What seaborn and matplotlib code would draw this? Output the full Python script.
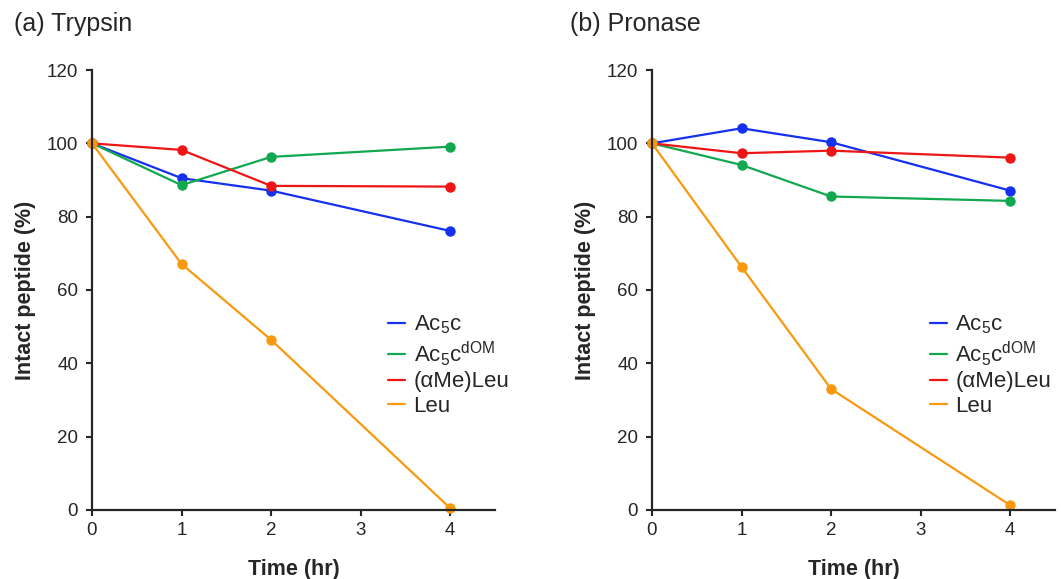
import pandas as pd
import matplotlib
matplotlib.use("Agg")
import matplotlib.pyplot as plt
from matplotlib.lines import Line2D
import seaborn as sns

# values
times = [0, 1, 2, 4]
compounds = ["Ac5c", "Ac5c-dOM", "aMeLeu", "Leu"]
labels = ["Ac$_5$c", "Ac$_5$c$^{\\mathrm{dOM}}$", "(\u03b1Me)Leu", "Leu"]

trypsin_ac5c = [100, 90.5, 87.1, 76.1]
trypsin_dom = [100, 88.6, 96.3, 99.1]
trypsin_ame = [100, 98.2, 88.4, 88.2]
trypsin_leu = [100, 67.1, 46.4, 0.5]

pronase_ac5c = [100, 104.1, 100.3, 87.1]
pronase_dom = [100, 94.1, 85.5, 84.3]
pronase_ame = [100, 97.3, 98.0, 96.1]
pronase_leu = [100, 66.3, 33.0, 1.3]

colors = {"Ac5c": "#1530f0", "Ac5c-dOM": "#12a84f", "aMeLeu": "#ee1515", "Leu": "#f8990f"}


def long_form(series):
    rows = []
    for name, vals in zip(compounds, series):
        for t, v in zip(times, vals):
            rows.append({"time": t, "pct": v, "compound": name})
    return pd.DataFrame(rows)


trypsin = long_form([trypsin_ac5c, trypsin_dom, trypsin_ame, trypsin_leu])
pronase = long_form([pronase_ac5c, pronase_dom, pronase_ame, pronase_leu])

sns.set_style("ticks")
plt.rcParams["font.family"] = ["Liberation Sans", "DejaVu Sans"]
plt.rcParams["mathtext.fontset"] = "custom"
plt.rcParams["mathtext.rm"] = "Liberation Sans"
plt.rcParams["mathtext.it"] = "Liberation Sans:italic"

fig = plt.figure(figsize=(10.61, 5.79), dpi=100)
ax1 = fig.add_axes([0.0867, 0.1192, 0.3798, 0.7599])
ax2 = fig.add_axes([0.6145, 0.1192, 0.3798, 0.7599])

panels = [(ax1, trypsin, "(a) Trypsin", 0.013, 0.712),
          (ax2, pronase, "(b) Pronase", 0.537, 0.667)]

for ax, df, title, tx, lx in panels:
    sns.lineplot(data=df, x="time", y="pct", hue="compound", hue_order=compounds,
                 palette=colors, marker="o", markersize=7.5, markeredgewidth=0,
                 linewidth=1.6, ax=ax, legend=False, clip_on=False)
    ax.set_xlim(0, 4.5)
    ax.set_ylim(0, 120)
    ax.set_xticks([0, 1, 2, 3, 4])
    ax.set_yticks(range(0, 121, 20))
    ax.tick_params(labelsize=13.5, width=1.5, length=4, direction="out")
    ax.tick_params(axis="y", pad=6)
    ax.tick_params(axis="x", pad=5)
    for s in ["left", "bottom"]:
        ax.spines[s].set_linewidth(1.6)
    sns.despine(ax=ax)
    ax.set_xlabel("Time (hr)", fontsize=15.5, fontweight="bold", labelpad=14)
    ax.set_ylabel("Intact peptide (%)", fontsize=15.5, fontweight="bold", labelpad=8)
    fig.text(tx, 0.958, title, fontsize=18, va="center", ha="left")

    handles = [Line2D([], [], color=colors[c], linewidth=1.6) for c in compounds]
    ax.legend(handles, labels, loc="upper left", bbox_to_anchor=(lx, 0.467),
              frameon=False, fontsize=16, handlelength=0.78, handletextpad=0.38,
              labelspacing=0.15, borderaxespad=0)

fig.savefig("out.png", dpi=100)
